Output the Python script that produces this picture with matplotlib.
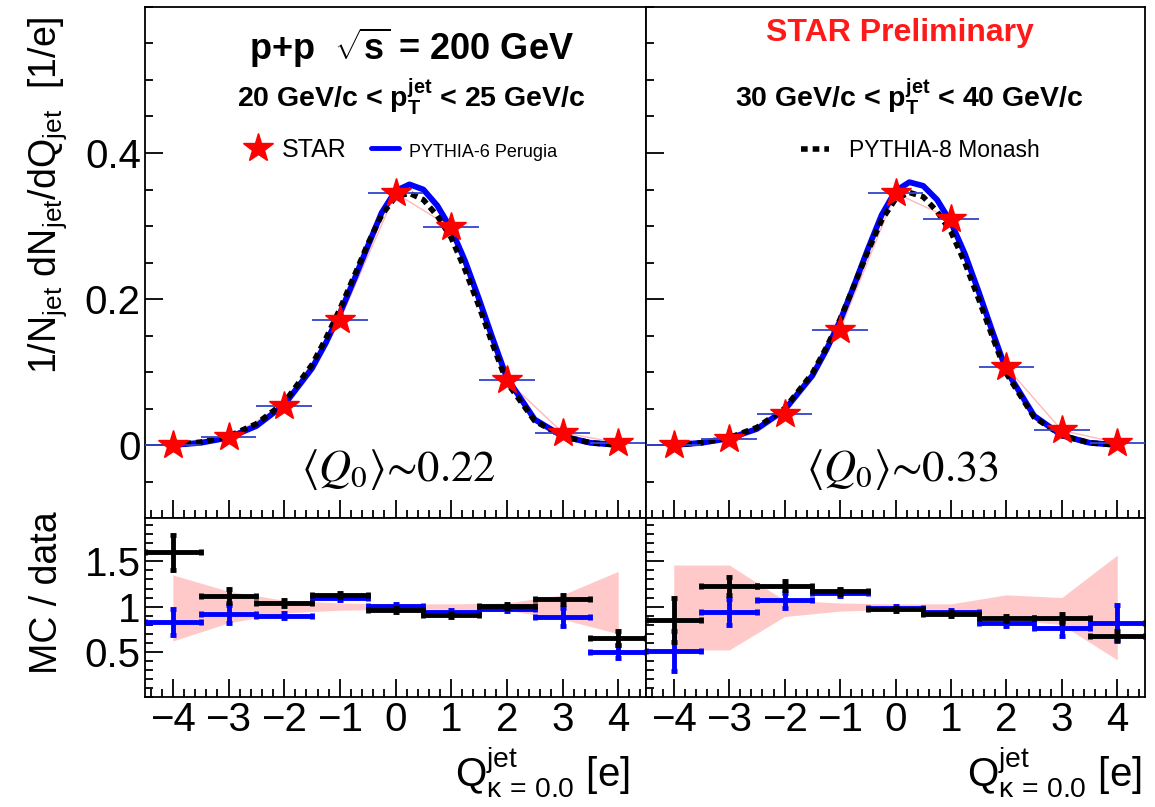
import numpy as np
import matplotlib.pyplot as plt
from matplotlib.ticker import MultipleLocator

plt.rcParams['font.family'] = ['Liberation Sans', 'DejaVu Sans']
plt.rcParams['mathtext.fontset'] = 'custom'
plt.rcParams['mathtext.rm'] = 'Liberation Sans'
plt.rcParams['mathtext.it'] = 'Liberation Sans:italic'
plt.rcParams['mathtext.bf'] = 'Liberation Sans:bold'

# bin centres of the jet charge distribution
q_bins = [-4, -3, -2, -1, 0, 1, 2, 3, 4]

# STAR data points (top panels)
star_20_25 = [0.000, 0.011, 0.054, 0.171, 0.345, 0.298, 0.089, 0.017, 0.003]
star_30_40 = [0.000, 0.008, 0.042, 0.158, 0.345, 0.310, 0.107, 0.020, 0.003]

# MC curves
curve_q = [-4, -3.5, -3, -2.5, -2, -1.5, -1.25, -1, -0.75, -0.5, -0.25, 0,
           0.25, 0.5, 0.75, 1, 1.25, 1.5, 1.75, 2, 2.5, 3, 3.5, 4]
py6_20_25 = [0.000, 0.003, 0.010, 0.026, 0.055, 0.105, 0.140, 0.180, 0.225, 0.272, 0.318, 0.348,
             0.357, 0.350, 0.328, 0.296, 0.252, 0.200, 0.145, 0.092, 0.035, 0.012, 0.003, 0.000]
py8_20_25 = [0.000, 0.004, 0.012, 0.029, 0.058, 0.110, 0.146, 0.186, 0.230, 0.275, 0.315, 0.340,
             0.345, 0.336, 0.314, 0.284, 0.240, 0.190, 0.137, 0.086, 0.033, 0.012, 0.003, 0.000]
py6_30_40 = [0.000, 0.003, 0.009, 0.022, 0.048, 0.095, 0.130, 0.170, 0.218, 0.268, 0.315, 0.348,
             0.360, 0.355, 0.336, 0.305, 0.262, 0.210, 0.155, 0.102, 0.040, 0.013, 0.003, 0.000]
py8_30_40 = [0.000, 0.003, 0.010, 0.024, 0.050, 0.098, 0.133, 0.172, 0.218, 0.265, 0.308, 0.337,
             0.346, 0.340, 0.320, 0.292, 0.250, 0.200, 0.148, 0.098, 0.038, 0.013, 0.003, 0.000]

# MC / data ratios (bottom panels)
r6_20_25 = [0.83, 0.92, 0.90, 1.09, 1.01, 0.94, 0.97, 0.88, 0.50]
r6_20_25_err = [0.14, 0.10, 0.03, 0.02, 0.02, 0.02, 0.02, 0.10, 0.07]
r8_20_25 = [1.60, 1.12, 1.04, 1.13, 0.96, 0.91, 1.01, 1.08, 0.65]
r8_20_25_err = [0.19, 0.08, 0.03, 0.02, 0.02, 0.02, 0.02, 0.05, 0.08]
band_hi_20_25 = [1.35, 1.17, 1.07, 1.04, 1.03, 1.03, 1.04, 1.13, 1.39]
band_lo_20_25 = [0.62, 0.82, 0.93, 0.96, 0.97, 0.97, 0.96, 0.86, 0.70]

r6_30_40 = [0.51, 0.94, 1.07, 1.15, 0.99, 0.94, 0.82, 0.76, 0.82]
r6_30_40_err = [0.22, 0.14, 0.08, 0.03, 0.02, 0.02, 0.03, 0.08, 0.20]
r8_30_40 = [0.85, 1.23, 1.23, 1.17, 0.97, 0.92, 0.87, 0.87, 0.68]
r8_30_40_err = [0.24, 0.10, 0.05, 0.03, 0.02, 0.02, 0.03, 0.05, 0.05]
band_hi_30_40 = [1.46, 1.46, 1.07, 1.04, 1.03, 1.03, 1.13, 1.10, 1.57]
band_lo_30_40 = [0.52, 0.52, 0.89, 0.95, 0.97, 0.97, 0.86, 0.80, 0.41]

W, H = 1155, 807
fig = plt.figure(figsize=(W / 100, H / 100), dpi=100)

def box(x0, x1, y0, y1):
    return [x0 / W, 1 - y1 / H, (x1 - x0) / W, (y1 - y0) / H]

ax1 = fig.add_axes(box(145, 646, 7, 518))
ax2 = fig.add_axes(box(646, 1145, 7, 518))
ax3 = fig.add_axes(box(145, 646, 518, 697))
ax4 = fig.add_axes(box(646, 1145, 518, 697))

pink = '#ffc9c9'
barblue = '#3344cc'
tick_fs = 29

def top_panel(ax, star, py6, py8):
    ax.plot(q_bins, star, c='#ffb8b8', lw=1, zorder=1)
    ax.plot(curve_q, py6, c='#0000ff', lw=4.2, solid_capstyle='round', zorder=2,
            label='PYTHIA-6 Perugia')
    ax.plot(curve_q, py8, c='k', lw=4, ls=(0, (1.2, 0.9)), zorder=3,
            label='PYTHIA-8 Monash')
    ax.errorbar(q_bins, star, xerr=0.5, fmt='none', ecolor=barblue, elinewidth=1.3, zorder=4)
    ax.plot(q_bins, star, ls='none', marker='*', ms=22, c='red', mec='red', zorder=5,
            label='STAR')
    ax.set_xlim(-4.5, 4.5)
    ax.set_ylim(-0.1, 0.6)
    ax.yaxis.set_major_locator(MultipleLocator(0.2))
    ax.yaxis.set_minor_locator(MultipleLocator(0.05))
    ax.xaxis.set_major_locator(MultipleLocator(1))
    ax.xaxis.set_minor_locator(MultipleLocator(0.2))
    ax.tick_params(which='both', direction='in', top=False, right=False, labelbottom=False,
                   width=1.3, labelsize=tick_fs, pad=3)
    ax.tick_params(which='major', length=13)
    ax.tick_params(which='minor', length=6)
    ax.set_yticks([0, 0.2, 0.4])
    ax.set_yticklabels(['0', '0.2', '0.4'])

def ratio_panel(ax, r6, e6, r8, e8, lo, hi):
    ax.fill_between(q_bins, lo, hi, color=pink, lw=0, zorder=1)
    ax.errorbar(q_bins, r6, xerr=0.5, yerr=e6, fmt='none', ecolor='#0000ff',
                elinewidth=3.5, capsize=2.5, capthick=3.5, zorder=2)
    ax.errorbar(q_bins, r8, xerr=0.5, yerr=e8, fmt='none', ecolor='k',
                elinewidth=3.5, capsize=2.5, capthick=3.5, zorder=3)
    ax.set_xlim(-4.5, 4.5)
    ax.set_ylim(0.0, 1.98)
    ax.xaxis.set_major_locator(MultipleLocator(1))
    ax.xaxis.set_minor_locator(MultipleLocator(0.2))
    ax.yaxis.set_minor_locator(MultipleLocator(0.1))
    ax.tick_params(which='both', direction='in', top=False, right=False,
                   width=1.3, labelsize=tick_fs, pad=3)
    ax.tick_params(which='major', length=13)
    ax.tick_params(which='minor', length=6)
    ax.set_yticks([0.5, 1, 1.5])
    ax.set_yticklabels(['0.5', '1', '1.5'])
    ax.set_xticks(q_bins)
    ax.set_xticklabels([str(q).replace('-', '\u2212') for q in q_bins])

top_panel(ax1, star_20_25, py6_20_25, py8_20_25)
top_panel(ax2, star_30_40, py6_30_40, py8_30_40)
ax2.tick_params(labelleft=False)
ratio_panel(ax3, r6_20_25, r6_20_25_err, r8_20_25, r8_20_25_err, band_lo_20_25, band_hi_20_25)
ratio_panel(ax4, r6_30_40, r6_30_40_err, r8_30_40, r8_30_40_err, band_lo_30_40, band_hi_30_40)
ax4.tick_params(labelleft=False)

for ax in [ax1, ax2, ax3, ax4]:
    for s in ax.spines.values():
        s.set_linewidth(1.3)

# texts
ax1.text(0.532, 0.92, r'p+p  $\sqrt{\mathbf{s}}$ = 200 GeV', transform=ax1.transAxes,
         ha='center', va='center', fontsize=26, fontweight='bold')
ax1.text(0.531, 0.822, r'20 GeV/c < p$_{\mathbf{T}}^{\mathbf{jet}}$ < 25 GeV/c', transform=ax1.transAxes,
         ha='center', va='center', fontsize=20.5, fontweight='bold')
ax2.text(0.509, 0.95, 'STAR Preliminary', transform=ax2.transAxes,
         ha='center', va='center', fontsize=23, fontweight='bold', color='#ff1a1a')
ax2.text(0.527, 0.822, r'30 GeV/c < p$_{\mathbf{T}}^{\mathbf{jet}}$ < 40 GeV/c', transform=ax2.transAxes,
         ha='center', va='center', fontsize=20.5, fontweight='bold')

qfam = ['STIXGeneral', 'DejaVu Serif']
ax1.text(0.505, 0.094, r'$\langle Q_0\rangle$' + '\u223c0.22', transform=ax1.transAxes,
         ha='center', va='center', fontsize=32, family=qfam, math_fontfamily='stix')
ax2.text(0.513, 0.094, r'$\langle Q_0\rangle$' + '\u223c0.33', transform=ax2.transAxes,
         ha='center', va='center', fontsize=32, family=qfam, math_fontfamily='stix')

h = ax1.get_legend_handles_labels()[0]
leg1 = ax1.legend([h[2], h[0]], ['STAR', 'PYTHIA-6 Perugia'], loc='center',
                  bbox_to_anchor=(0.51, 0.72), ncol=2, frameon=False, fontsize=18,
                  handlelength=1.1, handletextpad=0.4, columnspacing=1.0)
leg1.get_texts()[1].set_fontsize(13)
leg1.get_lines()[1].set_linewidth(3.5)
h2 = ax2.get_legend_handles_labels()[0]
ax2.legend([h2[1]], ['PYTHIA-8 Monash'], loc='center', bbox_to_anchor=(0.55, 0.72),
           frameon=False, fontsize=16.5, handlelength=1.2, handletextpad=0.9)

fig.text(0.041, 0.758, r'1/N$_{\rm jet}$ dN$_{\rm jet}$/dQ$_{\rm jet}$  [1/e]', rotation=90,
         ha='center', va='center', fontsize=27)
fig.text(0.041, 0.265, 'MC / data', rotation=90, ha='center', va='center', fontsize=27)
fig.text(630 / W, 0.043, r'Q$^{\rm jet}_{\rm \kappa\,=\,0.0}$ [e]', ha='right', va='center', fontsize=29)
fig.text(1142 / W, 0.043, r'Q$^{\rm jet}_{\rm \kappa\,=\,0.0}$ [e]', ha='right', va='center', fontsize=29)

fig.savefig('out.png', dpi=100)
